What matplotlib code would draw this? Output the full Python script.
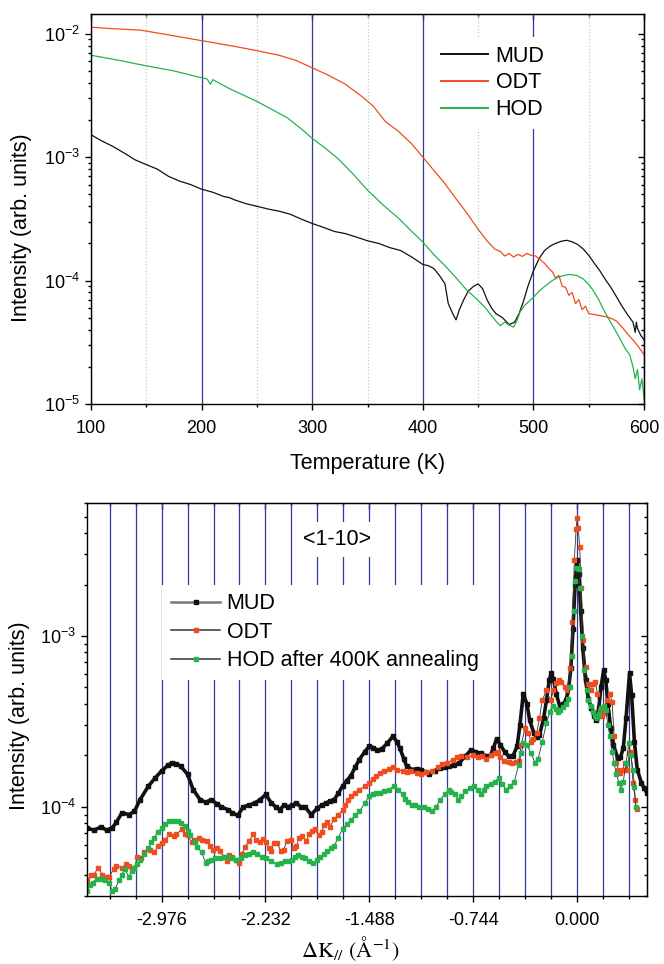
import matplotlib
matplotlib.use("Agg")
import matplotlib.pyplot as plt
from matplotlib.lines import Line2D
from matplotlib.ticker import MultipleLocator, FuncFormatter, NullFormatter

plt.rcParams["font.family"] = ["Liberation Sans", "DejaVu Sans"]
plt.rcParams["mathtext.fontset"] = "custom"
plt.rcParams["mathtext.rm"] = "Liberation Sans"
plt.rcParams["mathtext.it"] = "Liberation Sans:italic"
plt.rcParams["mathtext.bf"] = "Liberation Sans:bold"

# --- thermal desorption: intensity vs temperature ---
mud_T = [100, 110, 120, 130, 140, 150, 160, 170, 180, 190, 200, 210, 220, 225, 230,
         240, 250, 260, 270, 280, 290, 300, 310, 320, 330, 340, 350, 360, 370, 380,
         390, 400, 405, 410, 415, 420, 423, 427, 430, 433, 437, 441, 446, 450, 454,
         458, 462, 466, 472, 478, 483, 487, 491, 495, 500, 505, 510, 515, 520, 525,
         530, 535, 540, 545, 550, 555, 560, 565, 570, 575, 580, 585, 590, 592, 593,
         594, 597, 600]
mud_I = [1.52e-3, 1.35e-3, 1.22e-3, 1.08e-3, 9.5e-4, 8.7e-4, 8.0e-4, 7.0e-4, 6.4e-4,
         6.0e-4, 5.5e-4, 5.2e-4, 4.8e-4, 4.7e-4, 4.5e-4, 4.2e-4, 4.0e-4, 3.8e-4,
         3.65e-4, 3.45e-4, 3.15e-4, 2.9e-4, 2.7e-4, 2.5e-4, 2.4e-4, 2.25e-4, 2.1e-4,
         2.0e-4, 1.85e-4, 1.75e-4, 1.55e-4, 1.35e-4, 1.32e-4, 1.25e-4, 1.1e-4, 9.4e-5,
         6.5e-5, 5.4e-5, 4.8e-5, 5.8e-5, 7.0e-5, 8.2e-5, 9.0e-5, 9.4e-5, 8.6e-5,
         7.0e-5, 6.0e-5, 5.4e-5, 5.0e-5, 4.4e-5, 4.6e-5, 5.4e-5, 6.8e-5, 9.0e-5,
         1.2e-4, 1.5e-4, 1.75e-4, 1.9e-4, 2.0e-4, 2.08e-4, 2.12e-4, 2.06e-4, 1.96e-4,
         1.8e-4, 1.6e-4, 1.38e-4, 1.2e-4, 1.02e-4, 8.8e-5, 7.4e-5, 6.2e-5, 5.3e-5,
         4.6e-5, 3.8e-5, 4.6e-5, 4.1e-5, 3.6e-5, 3.3e-5]

odt_T = [100, 120, 145, 170, 200, 230, 250, 270, 285, 300, 315, 330, 345, 355, 366,
         378, 390, 400, 410, 420, 430, 440, 450, 458, 465, 470, 474, 478, 482, 486,
         490, 494, 498, 502, 506, 510, 514, 517, 520, 523, 526, 529, 532, 535, 538,
         541, 544, 547, 550, 555, 560, 565, 570, 575, 580, 585, 590, 595, 600]
odt_I = [1.13e-2, 1.10e-2, 1.07e-2, 9.8e-3, 8.8e-3, 7.9e-3, 7.3e-3, 6.7e-3, 6.1e-3,
         5.3e-3, 4.6e-3, 3.9e-3, 3.1e-3, 2.6e-3, 1.95e-3, 1.62e-3, 1.28e-3, 1.0e-3,
         7.8e-4, 6.1e-4, 4.6e-4, 3.5e-4, 2.6e-4, 2.1e-4, 1.8e-4, 1.72e-4, 1.58e-4,
         1.66e-4, 1.55e-4, 1.63e-4, 1.57e-4, 1.66e-4, 1.6e-4, 1.58e-4, 1.48e-4,
         1.38e-4, 1.25e-4, 1.18e-4, 1.05e-4, 1.1e-4, 9.0e-5, 8.8e-5, 7.6e-5, 8.0e-5,
         6.5e-5, 7.0e-5, 5.8e-5, 6.2e-5, 5.4e-5, 5.3e-5, 5.2e-5, 5.1e-5, 4.95e-5,
         4.7e-5, 4.2e-5, 3.7e-5, 3.3e-5, 2.9e-5, 2.5e-5]

hod_T = [100, 125, 150, 175, 200, 205, 208, 210, 225, 250, 265, 278, 290, 300, 312,
         324, 337, 350, 364, 378, 390, 400, 410, 420, 431, 439, 450, 456, 462, 466,
         470, 474, 478, 482, 485, 488, 492, 500, 505, 511, 517, 523, 528, 533, 539,
         545, 550, 554, 559, 563, 568, 573, 578, 583, 587, 590, 592, 594, 596, 598, 600]
hod_I = [6.7e-3, 6.1e-3, 5.5e-3, 5.0e-3, 4.4e-3, 4.3e-3, 3.9e-3, 4.25e-3, 3.6e-3,
         2.83e-3, 2.4e-3, 2.07e-3, 1.7e-3, 1.42e-3, 1.18e-3, 9.6e-4, 7.3e-4, 5.4e-4,
         4.1e-4, 3.2e-4, 2.5e-4, 2.05e-4, 1.62e-4, 1.32e-4, 1.03e-4, 8.5e-5, 6.9e-5,
         6.1e-5, 5.2e-5, 4.7e-5, 4.3e-5, 4.6e-5, 4.35e-5, 4.2e-5, 4.7e-5, 5.6e-5,
         6.3e-5, 7.3e-5, 8.2e-5, 9.1e-5, 1.0e-4, 1.07e-4, 1.1e-4, 1.12e-4, 1.1e-4,
         1.03e-4, 9.3e-5, 8.3e-5, 7.0e-5, 5.9e-5, 4.9e-5, 4.1e-5, 3.4e-5, 2.8e-5,
         2.5e-5, 2.0e-5, 1.6e-5, 1.9e-5, 1.3e-5, 1.6e-5, 1.1e-5]

# --- <1-10> scan: intensity vs parallel momentum transfer ---
mud_k = [-3.51, -3.46, -3.41, -3.37, -3.33, -3.30, -3.26, -3.21, -3.17, -3.13, -3.07,
         -3.02, -2.976, -2.93, -2.90, -2.87, -2.84, -2.79, -2.75, -2.70, -2.66, -2.62,
         -2.58, -2.55, -2.50, -2.47, -2.43, -2.39, -2.35, -2.31, -2.27, -2.23, -2.19,
         -2.16, -2.13, -2.10, -2.07, -2.04, -2.01, -1.98, -1.95, -1.905, -1.86, -1.83,
         -1.80, -1.77, -1.74, -1.71, -1.68, -1.65, -1.62, -1.59, -1.56, -1.52, -1.49,
         -1.46, -1.43, -1.40, -1.36, -1.32, -1.29, -1.27, -1.24, -1.22, -1.18, -1.15,
         -1.12, -1.09, -1.06, -1.02, -0.98, -0.95, -0.92, -0.88, -0.845, -0.80, -0.76,
         -0.73, -0.69, -0.65, -0.62, -0.60, -0.577, -0.55, -0.52, -0.49, -0.46, -0.43,
         -0.41, -0.386, -0.36, -0.34, -0.31, -0.29, -0.27, -0.24, -0.22, -0.20, -0.186,
         -0.17, -0.15, -0.124, -0.10, -0.08, -0.06, -0.045, -0.03, -0.015, 0.0, 0.012,
         0.025, 0.04, 0.06, 0.08, 0.10, 0.12, 0.137, 0.155, 0.17, 0.19, 0.205, 0.22,
         0.24, 0.26, 0.29, 0.31, 0.33, 0.35, 0.375, 0.39, 0.41, 0.43, 0.46, 0.48, 0.50]
mud_S = [7.5e-5, 7.3e-5, 7.6e-5, 7.3e-5, 7.5e-5, 8.1e-5, 9.2e-5, 9.0e-5, 9.4e-5,
         1.1e-4, 1.32e-4, 1.48e-4, 1.62e-4, 1.75e-4, 1.81e-4, 1.78e-4, 1.73e-4,
         1.55e-4, 1.26e-4, 1.1e-4, 1.06e-4, 1.1e-4, 1.04e-4, 1.0e-4, 9.6e-5, 9.2e-5,
         8.9e-5, 1.0e-4, 1.02e-4, 1.05e-4, 1.1e-4, 1.18e-4, 1.05e-4, 1.0e-4, 9.6e-5,
         1.02e-4, 1.0e-4, 1.02e-4, 1.05e-4, 1.0e-4, 1.0e-4, 9.0e-5, 9.8e-5, 1.02e-4,
         1.05e-4, 1.08e-4, 1.1e-4, 1.2e-4, 1.32e-4, 1.42e-4, 1.52e-4, 1.7e-4, 1.89e-4,
         2.1e-4, 2.26e-4, 2.22e-4, 2.14e-4, 2.18e-4, 2.35e-4, 2.58e-4, 2.4e-4, 2.2e-4,
         1.9e-4, 1.72e-4, 1.65e-4, 1.67e-4, 1.65e-4, 1.6e-4, 1.55e-4, 1.62e-4,
         1.68e-4, 1.7e-4, 1.72e-4, 1.76e-4, 1.8e-4, 1.98e-4, 2.15e-4, 2.1e-4, 2.05e-4,
         1.98e-4, 2.0e-4, 2.2e-4, 2.5e-4, 2.3e-4, 2.1e-4, 1.97e-4, 1.98e-4, 2.26e-4,
         3.0e-4, 4.6e-4, 4.0e-4, 3.2e-4, 2.7e-4, 2.57e-4, 2.62e-4, 3.3e-4, 4.2e-4,
         5.5e-4, 6.05e-4, 5.6e-4, 4.6e-4, 3.86e-4, 4.0e-4, 4.2e-4, 5.0e-4, 6.5e-4,
         1.1e-3, 2.0e-3, 2.78e-3, 2.3e-3, 1.4e-3, 8.5e-4, 5.5e-4, 4.3e-4, 3.8e-4,
         3.4e-4, 3.2e-4, 3.8e-4, 5.0e-4, 6.3e-4, 5.5e-4, 4.0e-4, 2.9e-4, 2.3e-4,
         1.93e-4, 1.95e-4, 2.2e-4, 3.3e-4, 6.05e-4, 4.5e-4, 2.4e-4, 1.65e-4, 1.38e-4,
         1.28e-4, 1.2e-4]

odt_k = [-3.51, -3.48, -3.46, -3.43, -3.40, -3.37, -3.35, -3.32, -3.30, -3.26, -3.23,
         -3.21, -3.17, -3.15, -3.12, -3.10, -3.06, -3.03, -3.00, -2.976, -2.95, -2.92,
         -2.89, -2.87, -2.83, -2.81, -2.79, -2.76, -2.74, -2.71, -2.69, -2.65, -2.63,
         -2.61, -2.58, -2.56, -2.53, -2.51, -2.49, -2.47, -2.44, -2.42, -2.40, -2.38,
         -2.35, -2.32, -2.30, -2.27, -2.25, -2.23, -2.21, -2.19, -2.17, -2.15, -2.12,
         -2.10, -2.08, -2.05, -2.03, -2.01, -1.99, -1.97, -1.94, -1.92, -1.90, -1.88,
         -1.85, -1.83, -1.81, -1.79, -1.77, -1.74, -1.71, -1.68, -1.66, -1.64, -1.62,
         -1.59, -1.56, -1.52, -1.49, -1.46, -1.44, -1.41, -1.38, -1.35, -1.32, -1.29,
         -1.25, -1.22, -1.19, -1.15, -1.12, -1.08, -1.04, -1.00, -0.97, -0.93, -0.89,
         -0.86, -0.83, -0.79, -0.747, -0.71, -0.68, -0.65, -0.62, -0.59, -0.57, -0.55,
         -0.525, -0.49, -0.465, -0.44, -0.42, -0.40, -0.374, -0.35, -0.33, -0.313,
         -0.29, -0.27, -0.25, -0.22, -0.19, -0.17, -0.155, -0.13, -0.115, -0.09, -0.07,
         -0.05, -0.035, -0.02, -0.008, 0.0, 0.008, 0.018, 0.03, 0.045, 0.06, 0.08,
         0.097, 0.115, 0.13, 0.145, 0.16, 0.175, 0.19, 0.21, 0.235, 0.25, 0.265, 0.28,
         0.295, 0.31, 0.325, 0.34, 0.36, 0.372, 0.385, 0.40, 0.415, 0.425]
odt_S = [3.7e-5, 4.0e-5, 4.0e-5, 4.4e-5, 4.0e-5, 3.9e-5, 3.9e-5, 4.3e-5, 4.5e-5,
         4.4e-5, 4.6e-5, 4.5e-5, 4.4e-5, 5.1e-5, 5.0e-5, 5.4e-5, 5.6e-5, 5.4e-5,
         5.9e-5, 6.15e-5, 6.4e-5, 6.9e-5, 6.7e-5, 6.9e-5, 7.4e-5, 6.9e-5, 6.8e-5,
         6.2e-5, 6.4e-5, 6.6e-5, 6.4e-5, 6.3e-5, 5.9e-5, 5.6e-5, 5.7e-5, 5.5e-5,
         5.1e-5, 4.8e-5, 5.2e-5, 5.1e-5, 4.9e-5, 4.7e-5, 5.3e-5, 5.8e-5, 6.3e-5,
         6.9e-5, 6.4e-5, 6.2e-5, 6.5e-5, 6.2e-5, 5.7e-5, 5.5e-5, 6.1e-5, 6.1e-5,
         5.5e-5, 5.6e-5, 6.3e-5, 6.4e-5, 5.7e-5, 5.9e-5, 6.6e-5, 6.7e-5, 6.3e-5,
         6.9e-5, 7.2e-5, 7.4e-5, 6.8e-5, 7.1e-5, 7.8e-5, 8.1e-5, 7.6e-5, 8.5e-5,
         8.9e-5, 9.6e-5, 1.03e-4, 1.1e-4, 1.16e-4, 1.2e-4, 1.26e-4, 1.32e-4, 1.38e-4,
         1.45e-4, 1.51e-4, 1.57e-4, 1.62e-4, 1.66e-4, 1.7e-4, 1.65e-4, 1.62e-4,
         1.6e-4, 1.62e-4, 1.58e-4, 1.55e-4, 1.6e-4, 1.62e-4, 1.7e-4, 1.77e-4, 1.8e-4,
         1.89e-4, 1.95e-4, 1.98e-4, 1.95e-4, 2.0e-4, 1.95e-4, 1.98e-4, 1.9e-4, 2.0e-4,
         2.05e-4, 2.1e-4, 1.95e-4, 1.85e-4, 1.82e-4, 1.8e-4, 1.83e-4, 1.85e-4, 2.3e-4,
         2.9e-4, 2.7e-4, 2.4e-4, 2.5e-4, 2.7e-4, 3.3e-4, 4.2e-4, 4.8e-4, 4.2e-4,
         4.8e-4, 5.3e-4, 5.5e-4, 5.4e-4, 5.0e-4, 4.8e-4, 6.5e-4, 1.2e-3, 2.8e-3,
         4.2e-3, 4.9e-3, 4.3e-3, 3.3e-3, 1.9e-3, 9.5e-4, 6.6e-4, 5.2e-4, 4.8e-4,
         5.2e-4, 5.4e-4, 4.6e-4, 3.7e-4, 3.4e-4, 3.55e-4, 4.2e-4, 4.6e-4, 4.1e-4,
         2.6e-4, 1.8e-4, 1.65e-4, 1.58e-4, 1.65e-4, 1.8e-4, 1.65e-4, 2.06e-4, 2.1e-4,
         1.38e-4, 1.1e-4, 9.7e-5]

hod_k = [-3.51, -3.49, -3.47, -3.44, -3.41, -3.38, -3.35, -3.33, -3.31, -3.28, -3.26,
         -3.24, -3.21, -3.19, -3.17, -3.15, -3.13, -3.10, -3.07, -3.05, -3.03, -3.00,
         -2.976, -2.95, -2.92, -2.89, -2.86, -2.84, -2.81, -2.79, -2.77, -2.74, -2.72,
         -2.69, -2.66, -2.64, -2.62, -2.59, -2.56, -2.53, -2.50, -2.47, -2.44, -2.41,
         -2.38, -2.35, -2.32, -2.29, -2.26, -2.23, -2.19, -2.15, -2.12, -2.09, -2.06,
         -2.04, -2.02, -2.00, -1.97, -1.95, -1.92, -1.89, -1.86, -1.84, -1.81, -1.79,
         -1.76, -1.74, -1.71, -1.68, -1.65, -1.62, -1.59, -1.56, -1.52, -1.49, -1.46,
         -1.44, -1.41, -1.38, -1.35, -1.31, -1.28, -1.25, -1.23, -1.21, -1.18, -1.16,
         -1.13, -1.10, -1.07, -1.04, -1.01, -0.98, -0.95, -0.92, -0.90, -0.875, -0.85,
         -0.83, -0.80, -0.77, -0.74, -0.71, -0.69, -0.67, -0.65, -0.62, -0.59, -0.56,
         -0.535, -0.51, -0.48, -0.45, -0.42, -0.40, -0.385, -0.36, -0.33, -0.30,
         -0.28, -0.25, -0.22, -0.195, -0.176, -0.155, -0.137, -0.12, -0.10, -0.08,
         -0.064, -0.05, -0.04, -0.025, -0.012, 0.0, 0.01, 0.02, 0.035, 0.05, 0.067,
         0.08, 0.097, 0.115, 0.13, 0.143, 0.158, 0.173, 0.19, 0.205, 0.22, 0.234,
         0.25, 0.265, 0.28, 0.30, 0.315, 0.33, 0.35, 0.37, 0.385, 0.40, 0.41, 0.42]
hod_S = [3.2e-5, 3.5e-5, 3.6e-5, 3.8e-5, 3.8e-5, 3.7e-5, 3.6e-5, 3.2e-5, 3.3e-5,
         3.7e-5, 4.0e-5, 4.3e-5, 3.9e-5, 4.2e-5, 4.4e-5, 4.6e-5, 4.9e-5, 5.3e-5,
         5.7e-5, 6.2e-5, 6.6e-5, 7.1e-5, 7.5e-5, 7.9e-5, 8.2e-5, 8.3e-5, 8.3e-5,
         8.0e-5, 7.7e-5, 7.2e-5, 6.8e-5, 6.2e-5, 5.8e-5, 5.4e-5, 4.7e-5, 4.8e-5,
         4.9e-5, 5.0e-5, 5.0e-5, 5.1e-5, 5.1e-5, 5.0e-5, 4.9e-5, 5.0e-5, 5.2e-5,
         5.3e-5, 5.4e-5, 5.3e-5, 5.1e-5, 5.0e-5, 4.8e-5, 4.6e-5, 4.7e-5, 4.8e-5,
         4.8e-5, 4.9e-5, 5.1e-5, 5.2e-5, 5.1e-5, 5.0e-5, 4.8e-5, 4.7e-5, 4.9e-5,
         5.1e-5, 5.3e-5, 5.5e-5, 5.7e-5, 5.9e-5, 6.6e-5, 7.4e-5, 7.9e-5, 8.4e-5,
         8.9e-5, 9.4e-5, 1.05e-4, 1.16e-4, 1.18e-4, 1.2e-4, 1.21e-4, 1.23e-4,
         1.26e-4, 1.32e-4, 1.25e-4, 1.18e-4, 1.11e-4, 1.06e-4, 1.03e-4, 1.02e-4,
         1.0e-4, 1.0e-4, 9.7e-5, 9.4e-5, 1.0e-4, 1.1e-4, 1.18e-4, 1.25e-4, 1.22e-4,
         1.18e-4, 1.1e-4, 1.15e-4, 1.23e-4, 1.28e-4, 1.32e-4, 1.25e-4, 1.18e-4,
         1.25e-4, 1.32e-4, 1.36e-4, 1.4e-4, 1.48e-4, 1.35e-4, 1.26e-4, 1.32e-4,
         1.4e-4, 1.75e-4, 2.06e-4, 2.35e-4, 2.3e-4, 2.05e-4, 1.8e-4, 1.9e-4, 2.4e-4,
         3.1e-4, 3.6e-4, 3.9e-4, 3.75e-4, 3.6e-4, 3.7e-4, 3.85e-4, 4.0e-4, 4.25e-4,
         5.0e-4, 7.6e-4, 1.4e-3, 2.1e-3, 2.5e-3, 2.45e-3, 1.9e-3, 1.0e-3, 6.3e-4,
         4.8e-4, 4.2e-4, 3.9e-4, 3.6e-4, 3.4e-4, 3.3e-4, 3.5e-4, 3.8e-4, 3.9e-4,
         3.7e-4, 3.0e-4, 2.6e-4, 2.1e-4, 1.8e-4, 1.55e-4, 1.38e-4, 1.26e-4, 1.4e-4,
         1.8e-4, 2.35e-4, 2.0e-4, 1.65e-4, 1.3e-4, 1.0e-4]

BLACK = "#111111"
RED = "#f04c1e"
GREEN = "#25b24a"
NAVY = "#2f3a96"


def mirror_ticks(ax):
    # origin-style axes: outward ticks left/bottom, inward ticks top/right
    ax.tick_params(which="both", direction="out", width=1.0, labelsize=13,
                   top=False, right=False)
    ax.tick_params(which="major", length=4.5)
    ax.tick_params(which="minor", length=2.5)
    ax.tick_params(axis="x", pad=7)
    for sp in ax.spines.values():
        sp.set_linewidth(1.0)
    top = ax.secondary_xaxis("top")
    top.xaxis.set_major_locator(ax.xaxis.get_major_locator())
    top.xaxis.set_minor_locator(ax.xaxis.get_minor_locator())
    top.tick_params(which="both", direction="in", labeltop=False, width=1.0)
    top.tick_params(which="major", length=4.5)
    top.tick_params(which="minor", length=2.5)
    right = ax.secondary_yaxis("right")
    right.tick_params(which="both", direction="in", labelright=False, width=1.0)
    right.tick_params(which="major", length=4.5)
    right.tick_params(which="minor", length=2.5)
    right.yaxis.set_minor_formatter(NullFormatter())


def white_box(leg):
    frame = leg.get_frame()
    frame.set_facecolor("white")
    frame.set_edgecolor("white")
    frame.set_linewidth(0)
    frame.set_alpha(1)


fig = plt.figure(figsize=(6.64, 9.64), dpi=100)

# top panel
ax1 = fig.add_axes([0.137, 0.581, 0.833, 0.4046])
ax1.set_yscale("log")
ax1.set_xlim(100, 600)
ax1.set_ylim(1e-5, 1.45e-2)
ax1.xaxis.set_major_locator(MultipleLocator(100))
ax1.xaxis.set_minor_locator(MultipleLocator(50))
ax1.yaxis.set_minor_formatter(NullFormatter())
ax1.xaxis.grid(True, which="major", color=NAVY, lw=0.9, ls="-")
ax1.xaxis.grid(True, which="minor", color="#9fe0b8", lw=0.9, ls=":")

ax1.plot(mud_T, mud_I, color=BLACK, lw=0.9, label="MUD")
ax1.plot(odt_T, odt_I, color=RED, lw=0.9, label="ODT")
ax1.plot(hod_T, hod_I, color=GREEN, lw=0.9, label="HOD")

leg1 = ax1.legend(loc="upper left", bbox_to_anchor=(0.617, 0.94), borderaxespad=0,
                  fontsize=15.5, frameon=True, fancybox=False, handlelength=2.2,
                  handletextpad=0.35, labelspacing=0.26, borderpad=0.4)
white_box(leg1)
for h in leg1.get_lines():
    h.set_linewidth(1.4)

ax1.set_xlabel("Temperature (K)", fontsize=15.5)
ax1.set_ylabel("Intensity (arb. units)", fontsize=15.5)
ax1.xaxis.set_label_coords(0.5, -0.125)
ax1.yaxis.set_label_coords(-0.107, 0.451)
mirror_ticks(ax1)

# bottom panel
ax2 = fig.add_axes([0.131, 0.0705, 0.8434, 0.4077])
ax2.set_yscale("log")
ax2.set_xlim(-3.51, 0.50)
ax2.set_ylim(3.0e-5, 6.0e-3)
ax2.xaxis.set_major_locator(MultipleLocator(0.744))
ax2.xaxis.set_minor_locator(MultipleLocator(0.186))
ax2.xaxis.set_major_formatter(FuncFormatter(lambda v, p: f"{v:.3f}"))
ax2.yaxis.set_minor_formatter(NullFormatter())
ax2.xaxis.grid(True, which="both", color=NAVY, lw=0.9, ls="-")

ax2.plot(mud_k, mud_S, color=BLACK, lw=2.6, marker="s", ms=2.6, mfc=BLACK, mec=BLACK)
ax2.plot(odt_k, odt_S, color="#333333", lw=0.6, marker="s", ms=2.6, mfc=RED, mec=RED)
ax2.plot(hod_k, hod_S, color="#333333", lw=0.6, marker="s", ms=2.6, mfc=GREEN, mec=GREEN)

handles = [
    Line2D([], [], color="#777777", lw=1.8, marker="s", ms=2.6, mfc=BLACK, mec=BLACK),
    Line2D([], [], color="#333333", lw=1.1, marker="s", ms=2.6, mfc=RED, mec=RED),
    Line2D([], [], color="#333333", lw=1.1, marker="s", ms=2.6, mfc=GREEN, mec=GREEN),
]
leg2 = ax2.legend(handles, ["MUD", "ODT", "HOD after 400K annealing"],
                  loc="upper left", bbox_to_anchor=(0.1346, 0.792), borderaxespad=0,
                  fontsize=15.5, frameon=True, fancybox=False, handlelength=2.28,
                  handletextpad=0.3, labelspacing=0.35, borderpad=0.4)
white_box(leg2)

ax2.text(0.446, 0.908, "<1-10>", transform=ax2.transAxes, fontsize=15.5,
         ha="center", va="center", zorder=5,
         bbox=dict(facecolor="white", edgecolor="none", pad=5))

ax2.set_xlabel(r"$\mathrm{\Delta K}_{//}\ (\mathrm{Å}^{-1})$", fontsize=16,
               math_fontfamily="stix")
ax2.set_ylabel("Intensity (arb. units)", fontsize=15.5)
ax2.xaxis.set_label_coords(0.47, -0.097)
ax2.yaxis.set_label_coords(-0.102, 0.458)
mirror_ticks(ax2)

fig.savefig("out.png", dpi=100)
